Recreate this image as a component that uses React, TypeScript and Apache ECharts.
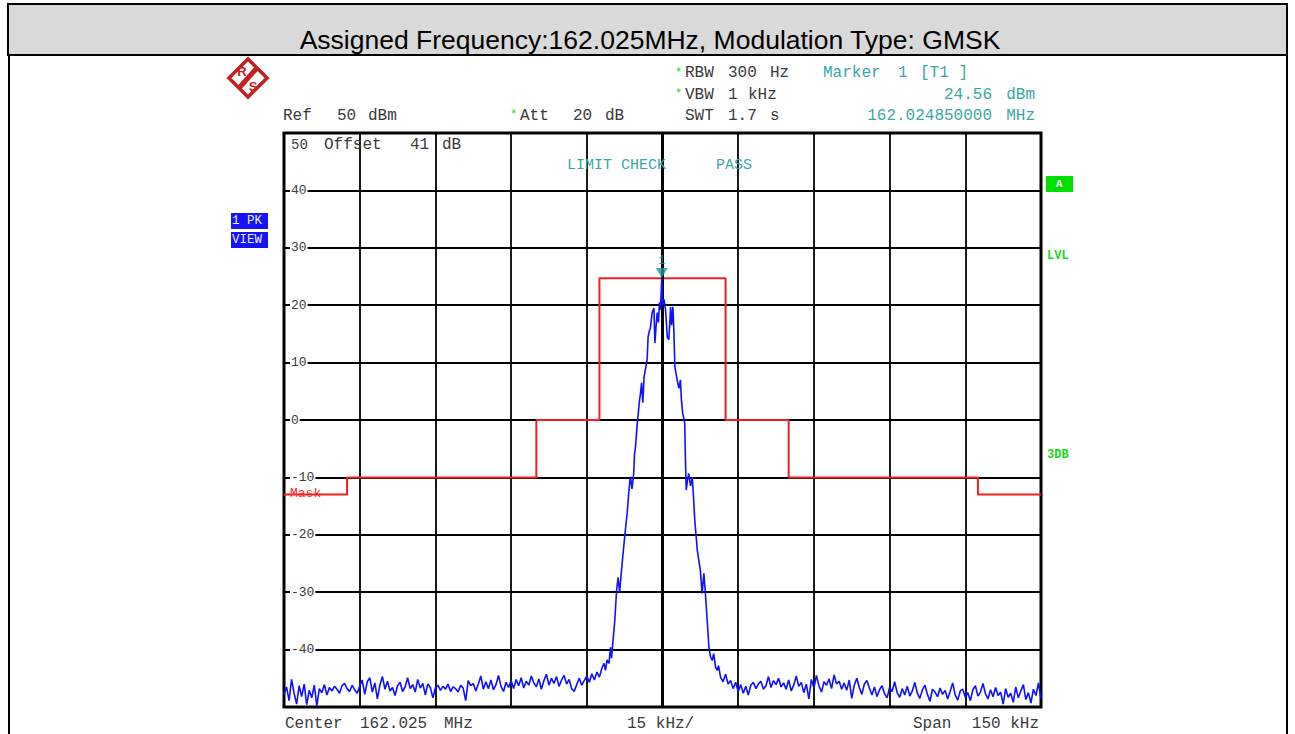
import React, { useEffect, useRef } from "react";
import * as echarts from "echarts";

// ---------- data ----------
const xTicks = [-75, 75, 15]; // min, max, interval (kHz offset from 162.025 MHz)
const yTicks = [-50, 50, 10]; // dBm

// limit mask (kHz, dBm)
const maskFreq = [-75, -62.5, -62.5, -25, -25, -12.5, -12.5, 12.5, 12.5, 25, 25, 62.5, 62.5, 75];
const maskLevel = [-13, -13, -10, -10, 0, 0, 24.7, 24.7, 0, 0, -10, -10, -13, -13];

// noise floor left of the carrier, sampled every 0.5 kHz from -75 kHz
const leftNoiseStart = -75;
const noiseStep = 0.5;
const leftNoise = [
  -47.8, -46.5, -48.9, -45.2, -47.6, -49.5, -46.3, -48.2, -46.0, -49.6,
  -47.1, -48.4, -46.2, -49.8, -46.8, -47.5, -46.1, -47.9, -46.6, -47.2,
  -46.4, -46.9, -47.6, -46.3, -45.9, -46.8, -47.3, -46.2, -47.0, -47.6,
  -46.4, -45.3, -47.8, -45.6, -44.9, -47.4, -45.8, -48.6, -46.2, -44.7,
  -46.9, -45.5, -47.2, -46.6, -48.0, -46.3, -45.7, -47.3, -46.5, -44.9,
  -46.8, -46.1, -47.4, -45.2, -46.7, -45.9, -47.9, -46.0, -46.6, -48.4,
  -46.7, -46.2, -47.1, -46.4, -46.9, -46.0, -47.3, -46.5, -46.8, -47.4,
  -46.2, -46.7, -48.9, -45.4, -46.3, -45.9, -47.2, -46.0, -44.6, -46.9,
  -45.6, -46.8, -45.3, -47.0, -46.1, -44.5, -46.4, -47.3, -45.7, -46.6,
  -45.4, -46.8, -45.2, -46.3, -44.9, -46.7, -45.5, -46.2, -44.6, -45.8,
  -46.5, -45.1, -46.9, -45.4, -44.3, -46.2, -45.0, -45.9, -44.7, -46.4,
  -45.3, -44.5, -46.0, -45.2, -46.8, -47.3, -46.1, -45.0, -46.2, -45.4,
  -44.6, -45.7, -44.2, -45.3, -43.9, -44.8,
];

// carrier region (kHz, dBm)
const carrier: [number, number][] = [
  [-12.0, -43.2], [-11.6, -42.4], [-11.3, -43.6], [-11.0, -41.8], [-10.6, -42.4],
  [-10.3, -39.6], [-10.1, -41.5], [-9.85, -38.9], [-9.45, -34.9], [-9.1, -29.7],
  [-8.8, -27.4], [-8.5, -30.0], [-8.3, -28.0], [-8.0, -25.0], [-7.5, -20.4],
  [-7.0, -16.2], [-6.7, -12.8], [-6.45, -10.5], [-6.35, -9.9], [-6.05, -12.0],
  [-5.7, -9.3], [-5.55, -6.0], [-5.35, -4.7], [-5.0, -0.5], [-4.8, 1.2],
  [-4.55, 3.5], [-4.35, 4.7], [-4.15, 6.5], [-3.9, 3.0], [-3.65, 7.5],
  [-3.5, 8.2], [-3.05, 10.5], [-2.85, 14.5], [-2.6, 15.5], [-2.4, 16.0],
  [-2.05, 18.7], [-1.7, 19.5], [-1.5, 13.4], [-1.3, 16.0], [-1.05, 18.7],
  [-0.8, 17.0], [-0.6, 20.5], [-0.4, 19.2], [-0.15, 24.56], [0.05, 20.0],
  [0.3, 21.0], [0.6, 19.2], [0.95, 14.5], [1.25, 14.0], [1.45, 17.0],
  [1.6, 19.7], [1.8, 16.5], [2.05, 19.7], [2.25, 15.7], [2.45, 9.3],
  [2.9, 7.0], [3.25, 5.5], [3.55, 7.0], [3.75, 3.5], [4.0, 1.2],
  [4.4, -0.5], [4.55, -7.0], [4.7, -12.2], [4.95, -10.5], [5.2, -9.3],
  [5.55, -11.5], [5.9, -10.0], [6.1, -12.8], [6.4, -17.5], [6.9, -22.7],
  [7.5, -26.2], [7.85, -30.2], [8.2, -26.7], [8.5, -30.2], [8.85, -34.9],
  [9.2, -39.6], [9.5, -41.2], [9.85, -41.9], [10.15, -40.7], [10.5, -43.0],
  [10.85, -43.6], [11.1, -42.8],
];

// noise floor right of the carrier, sampled every 0.5 kHz from 11.5 kHz
const rightNoiseStart = 11.5;
const rightNoise = [
  -44.8, -45.6, -44.3, -46.0, -45.4, -46.8, -45.7, -47.3, -46.1, -47.6,
  -46.4, -47.9, -46.2, -45.7, -46.8, -46.0, -45.5, -46.9, -46.3, -44.7,
  -46.6, -45.4, -46.1, -45.0, -46.5, -45.8, -46.9, -45.3, -47.2, -46.2,
  -44.6, -46.4, -45.7, -47.5, -46.0, -48.6, -45.2, -46.7, -44.5, -46.3,
  -47.4, -45.6, -46.2, -45.1, -46.8, -44.4, -46.0, -45.5, -46.9, -45.8,
  -47.1, -45.3, -48.5, -46.2, -45.0, -46.6, -47.8, -46.0, -45.4, -46.7,
  -47.9, -46.5, -48.2, -47.0, -46.3, -47.7, -48.4, -46.6, -47.3, -45.6,
  -47.5, -48.3, -46.8, -47.9, -46.4, -48.1, -47.2, -45.7, -47.6, -48.5,
  -47.0, -46.2, -47.8, -49.0, -46.9, -47.4, -48.2, -46.7, -47.8, -47.1,
  -48.6, -47.3, -45.8, -47.9, -48.8, -47.2, -46.9, -48.3, -47.5, -48.9,
  -47.0, -46.3, -48.1, -47.4, -45.9, -47.7, -48.6, -47.0, -48.2, -46.6,
  -48.0, -47.4, -49.5, -46.8, -48.3, -47.6, -49.2, -46.5, -48.4, -47.2,
  -46.1, -48.7, -47.5, -49.3, -46.9, -48.0, -45.8, -48.6,
];

const marker: [number, number] = [-0.15, 24.56];

// ---------- styles ----------
const MONO = '"Liberation Mono", "DejaVu Sans Mono", monospace';
const TXT = "#3a3a3a";
const TEAL = "#3aa6a6";
const GREEN = "#18d818";

function txt(text: string, x: number, y: number, fill: string, size = 16, align = "left", weight = "normal") {
  return {
    type: "text",
    x,
    y,
    z: 100,
    style: {
      text,
      fill,
      font: `${weight} ${size}px ${MONO}`,
      textAlign: align,
      align,
      textVerticalAlign: "middle",
      verticalAlign: "middle",
    },
  };
}

export default function App() {
  const ref = useRef<HTMLDivElement>(null);

  useEffect(() => {
    if (!ref.current) return;
    const chart = echarts.init(ref.current, null, { renderer: "svg" });

    const trace: [number, number][] = [];
    leftNoise.forEach((v, i) => trace.push([leftNoiseStart + i * noiseStep, v]));
    carrier.forEach((p) => trace.push(p));
    rightNoise.forEach((v, i) => trace.push([rightNoiseStart + i * noiseStep, v]));

    const mask = maskFreq.map((f, i) => [f, maskLevel[i]]);

    const graphic: any[] = [
      // outer frame and title bar
      { type: "rect", z: 50, shape: { x: 8, y: 4, width: 1279, height: 51 }, style: { fill: "#d9d9d9", stroke: "#000", lineWidth: 2 } },
      { type: "line", z: 50, shape: { x1: 9, y1: 55, x2: 9, y2: 734 }, style: { stroke: "#000", lineWidth: 2 } },
      { type: "line", z: 50, shape: { x1: 1287, y1: 55, x2: 1287, y2: 734 }, style: { stroke: "#000", lineWidth: 2 } },
      {
        type: "text",
        x: 650,
        y: 40,
        z: 100,
        style: {
          text: "Assigned Frequency:162.025MHz, Modulation Type: GMSK",
          fill: "#000",
          font: '26.5px "Liberation Sans", Arial, sans-serif',
          textAlign: "center",
          align: "center",
          textVerticalAlign: "middle",
          verticalAlign: "middle",
        },
      },
      // R&S logo
      {
        type: "group",
        x: 248,
        y: 78,
        z: 100,
        children: [
          { type: "rect", rotation: Math.PI / 4, shape: { x: -13.5, y: -13.5, width: 27, height: 27 }, style: { fill: "#fff", stroke: "#c42020", lineWidth: 3.5 } },
          { type: "line", shape: { x1: 9, y1: -10, x2: -9, y2: 10 }, style: { stroke: "#c42020", lineWidth: 5 } },
          { type: "text", x: -6, y: -7, style: { text: "R", fill: "#c42020", font: 'bold 13px "Liberation Sans", sans-serif', align: "center", verticalAlign: "middle", textAlign: "center", textVerticalAlign: "middle" } },
          { type: "text", x: 5, y: 8, style: { text: "S", fill: "#c42020", font: 'bold 13px "Liberation Sans", sans-serif', align: "center", verticalAlign: "middle", textAlign: "center", textVerticalAlign: "middle" } },
        ],
      },
      // instrument header
      txt("Ref", 283, 116, TXT),
      txt("50", 337, 116, TXT),
      txt("dBm", 368, 116, TXT),
      txt("*", 510, 115, GREEN, 12),
      txt("Att", 520, 116, TXT),
      txt("20", 573, 116, TXT),
      txt("dB", 605, 116, TXT),
      txt("*", 675, 73, GREEN, 12),
      txt("RBW", 685, 73, TXT),
      txt("300", 728, 73, TXT),
      txt("Hz", 770, 73, TXT),
      txt("*", 675, 94, GREEN, 12),
      txt("VBW", 685, 95, TXT),
      txt("1", 728, 95, TXT),
      txt("kHz", 748, 95, TXT),
      txt("SWT", 685, 116, TXT),
      txt("1.7", 728, 116, TXT),
      txt("s", 770, 116, TXT),
      txt("Marker", 823, 73, TEAL),
      txt("1", 898, 73, TEAL),
      txt("[T1 ]", 920, 73, TEAL),
      txt("24.56", 992, 95, TEAL, 16, "right"),
      txt("dBm", 1035, 95, TEAL, 16, "right"),
      txt("162.024850000", 992, 116, TEAL, 16, "right"),
      txt("MHz", 1035, 116, TEAL, 16, "right"),
      // inside plot
      txt("50", 291, 145, TXT, 14),
      txt("Offset", 324, 145, TXT),
      txt("41", 410, 145, TXT),
      txt("dB", 442, 145, TXT),
      txt("LIMIT CHECK", 567, 165, TEAL, 15),
      txt("PASS", 716, 165, TEAL, 15),
      txt("Mask", 290, 493, "#f03030", 13),
      // side indicators
      { type: "rect", z: 100, shape: { x: 231, y: 213, width: 37, height: 16 }, style: { fill: "#1414f5" } },
      { type: "rect", z: 100, shape: { x: 231, y: 232, width: 37, height: 16 }, style: { fill: "#1414f5" } },
      txt("1 PK", 232, 221, "#e8e8ff", 12.5),
      txt("VIEW", 232, 240, "#e8e8ff", 12.5),
      { type: "rect", z: 100, shape: { x: 1046, y: 176, width: 27, height: 16 }, style: { fill: "#00dd00" } },
      txt("A", 1059, 184, "#ffffff", 11, "center", "bold"),
      txt("LVL", 1047, 256, GREEN, 12, "left", "bold"),
      txt("3DB", 1047, 455, GREEN, 12, "left", "bold"),
      // footer
      txt("Center", 285, 724, TXT),
      txt("162.025", 360, 724, TXT),
      txt("MHz", 444, 724, TXT),
      txt("15 kHz/", 627, 724, TXT),
      txt("Span", 913, 724, TXT),
      txt("150 kHz", 1039, 724, TXT, 16, "right"),
    ];

    chart.setOption({
      animation: false,
      backgroundColor: "#fff",
      grid: {
        left: 284,
        top: 133,
        width: 757,
        height: 574,
        show: true,
        borderColor: "#000",
        borderWidth: 3,
        backgroundColor: "transparent",
        z: 3,
      },
      xAxis: {
        type: "value",
        min: xTicks[0],
        max: xTicks[1],
        interval: xTicks[2],
        z: 1,
        axisLine: { show: false },
        axisTick: { show: false },
        axisLabel: { show: false },
        splitLine: { show: true, lineStyle: { color: "#000", width: 1.8 } },
      },
      yAxis: {
        type: "value",
        min: yTicks[0],
        max: yTicks[1],
        interval: yTicks[2],
        z: 2,
        axisLine: { show: false },
        axisTick: { show: false },
        axisLabel: {
          show: true,
          inside: true,
          margin: 6,
          color: "#3a3a3a",
          fontFamily: MONO,
          fontSize: 13,
          backgroundColor: "#fff",
          padding: [0, 1],
          formatter: (v: number) => (v === 50 || v === -50 ? "" : String(v)),
        },
        splitLine: { show: true, lineStyle: { color: "#000", width: 1.8 } },
      },
      graphic,
      series: [
        {
          type: "line",
          data: [],
          silent: true,
          z: 3,
          markLine: {
            silent: true,
            symbol: "none",
            label: { show: false },
            lineStyle: { color: "#000", width: 3, type: "solid" },
            data: [{ xAxis: 0 }],
          },
        },
        {
          name: "Mask",
          type: "line",
          data: mask,
          showSymbol: false,
          z: 4,
          lineStyle: { color: "#f02020", width: 2 },
        },
        {
          name: "Trace",
          type: "line",
          data: trace,
          showSymbol: false,
          z: 6,
          lineStyle: { color: "#1010ff", width: 1.6 },
        },
        {
          name: "Marker 1",
          type: "scatter",
          data: [marker],
          z: 8,
          symbol: "triangle",
          symbolRotate: 180,
          symbolSize: [12, 10],
          symbolOffset: [0, -6],
          itemStyle: { color: "#1a9a9a" },
          label: {
            show: true,
            position: "top",
            distance: 1,
            formatter: "1",
            color: "#1a9a9a",
            fontFamily: MONO,
            fontSize: 12,
          },
        },
      ],
    });

    return () => chart.dispose();
  }, []);

  return (
    <div
      ref={ref}
      style={{ position: "absolute", left: 0, top: 0, width: 1295, height: 734, background: "#fff" }}
    />
  );
}
